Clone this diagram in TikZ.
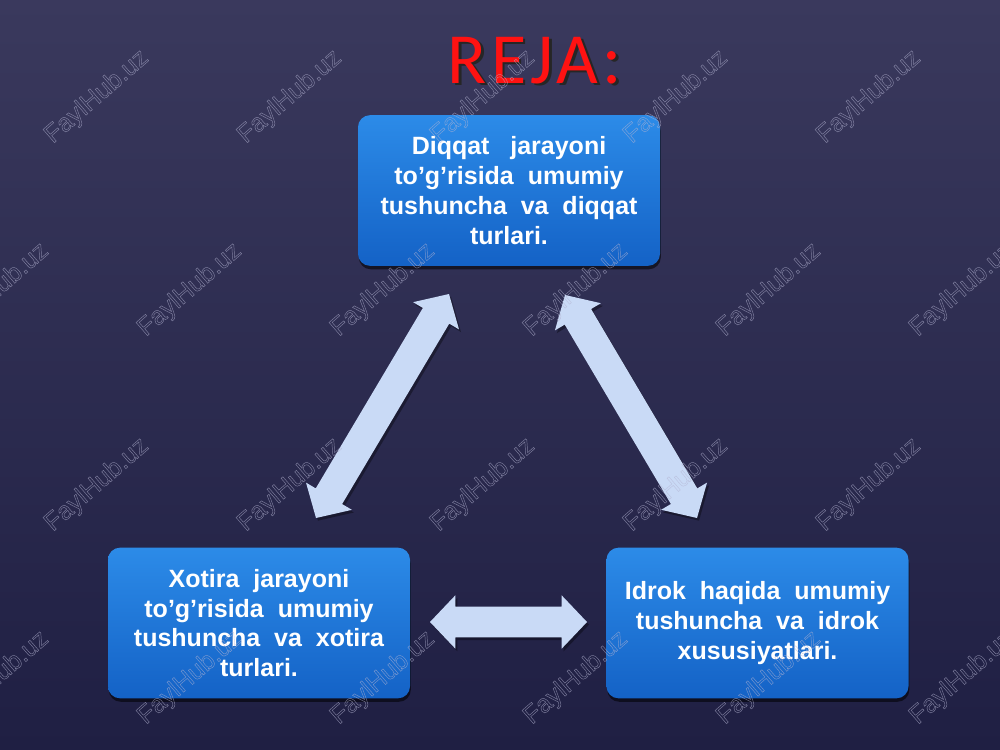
\documentclass[tikz,border=0pt]{standalone}
\usepackage{fontspec}
\setmainfont{Liberation Sans}
\newfontfamily\titlefont[LetterSpace=6]{Carlito}
\usetikzlibrary{calc,shadows}
\definecolor{bgtop}{HTML}{3A395D}
\definecolor{bgmid}{HTML}{2D2D53}
\definecolor{bgbot}{HTML}{1F1F43}
\definecolor{boxtop}{HTML}{2C8BE8}
\definecolor{boxbot}{HTML}{1462C6}
\definecolor{arrowc}{HTML}{C9DAF6}
\definecolor{titlered}{HTML}{FF1212}
\definecolor{wmc}{HTML}{B4B4D2}
\newcommand\hl{19pt}
\newcommand\hw{20pt}
\newcommand\sw{11.5pt}
\newcommand\outlinetext{\special{pdf:literal direct 1 Tr 0.35 w}}
\newcommand\DArrow[3]{%
  \fill[#3] (#1)
  -- ($(#1)!\hl!(#2)!\hw!90:(#2)$)
  -- ($(#1)!\hl!(#2)!\sw!90:(#2)$)
  -- ($(#2)!\hl!(#1)!\sw!-90:(#1)$)
  -- ($(#2)!\hl!(#1)!\hw!-90:(#1)$)
  -- (#2)
  -- ($(#2)!\hl!(#1)!\hw!90:(#1)$)
  -- ($(#2)!\hl!(#1)!\sw!90:(#1)$)
  -- ($(#1)!\hl!(#2)!\sw!-90:(#2)$)
  -- ($(#1)!\hl!(#2)!\hw!-90:(#2)$)
  -- cycle;}
\begin{document}
\begin{tikzpicture}[x=0.75pt,y=-0.75pt,
  box/.style={rectangle, rounded corners=9pt, minimum width=226.5pt,
    minimum height=113pt, top color=boxtop, bottom color=boxbot,
    text=white, align=center, inner sep=0pt,
    font=\bfseries\fontsize{18.75}{22.4}\selectfont,
    drop shadow={shadow xshift=0.6pt, shadow yshift=-2.6pt, opacity=.55, fill=black}},
  arrowfill/.style={fill=arrowc},
  arrowshadow/.style={fill=black, opacity=.35, transform canvas={xshift=1.5pt, yshift=-2pt}},
  wm/.style={rotate=41, text=wmc, text opacity=.6, font=\fontsize{19}{19}\selectfont},
  title/.style={font=\titlefont\fontsize{54}{54}\selectfont, anchor=base}]
\useasboundingbox (0,0) rectangle (1000,750);
\clip (0,0) rectangle (1000,750);
% background
\fill[top color=bgtop, middle color=bgmid, bottom color=bgbot] (0,0) rectangle (1000,750);
% title
\node[title, text=black!85] (titleshadow) at (537.5,85.5) {REJA:};
\node[title, text=titlered] (title) at (535,83) {REJA:};
% boxes
\node[box] (diqqat) at (509,190.5) {Diqqat\ \ \ jarayoni\\ to’g’risida\ \ umumiy\\ tushuncha\ \ va\ \ diqqat\\ turlari.};
\node[box] (xotira) at (259,623) {Xotira\ \ jarayoni\\ to’g’risida\ \ umumiy\\ tushuncha\ \ va\ \ xotira\\ turlari.};
\node[box] (idrok) at (757.5,623) {Idrok\ \ haqida\ \ umumiy\\ tushuncha\ \ va\ \ idrok\\ xususiyatlari.};
% arrow end points
\coordinate (l1) at (449,294);
\coordinate (l2) at (316,518);
\coordinate (r1) at (565,295);
\coordinate (r2) at (697,518);
\coordinate (h1) at (430,622);
\coordinate (h2) at (587,622);
% arrows
\DArrow{l1}{l2}{arrowshadow}
\DArrow{r1}{r2}{arrowshadow}
\DArrow{h1}{h2}{arrowshadow}
\DArrow{l1}{l2}{arrowfill}
\DArrow{r1}{r2}{arrowfill}
\DArrow{h1}{h2}{arrowfill}
% watermarks
\foreach \x [count=\i] in {97,290,483,676,869}
  \foreach \y [count=\j] in {97,485}
    \node[wm] (wa\i\j) at (\x,\y) {\outlinetext FaylHub.uz};
\foreach \x [count=\i] in {-3,190,383,576,769,962}
  \foreach \y [count=\j] in {290,678}
    \node[wm] (wb\i\j) at (\x,\y) {\outlinetext FaylHub.uz};
\end{tikzpicture}
\end{document}
